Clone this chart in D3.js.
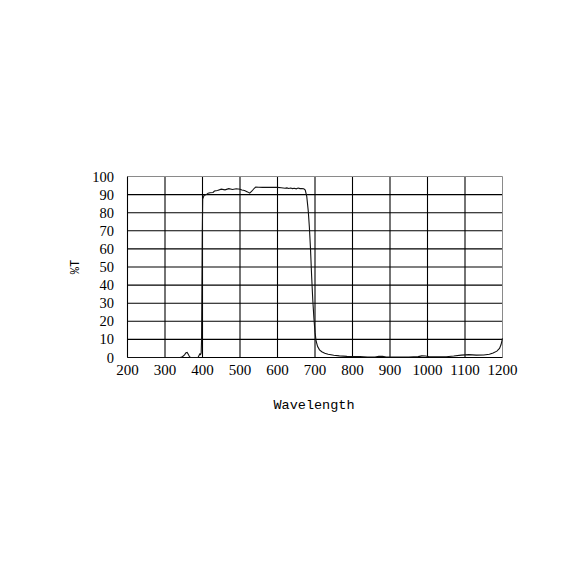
<!DOCTYPE html>
<html><head><meta charset="utf-8">
<script src="https://cdn.jsdelivr.net/npm/d3@7"></script>
<style>html,body{margin:0;padding:0;background:#fff;}</style>
</head><body>
<svg id="c" width="579" height="579"></svg>
<script>
const xTicks = [200,300,400,500,600,700,800,900,1000,1100,1200];
const yTicks = [0,10,20,30,40,50,60,70,80,90,100];
const wavelength = [200,340,345,352,356,359,362,366,370,388,391,393,395,396.5,397.5,398.5,399.5,400.5,404,410,415,420,428,432,440,450,460,470,480,490,500,505,512,520,526,532,538,542,550,560,580,600,610,620,625,630,635,640,645,650,655,660,665,670,674,678,682,685,688,691,694,697,700,703,707,712,718,726,735,750,765,785,800,820,840,860,870,880,890,950,975,985,995,1005,1050,1070,1090,1110,1130,1150,1165,1175,1185,1192,1196,1200];
const transmission = [0,0,0.2,1.5,2.6,2.8,1.8,0.2,0,0,1.2,2,1.6,2.5,10,40,70,87.5,89.5,90,90.8,91,91.2,92,92.3,93,92.6,93.3,92.8,93.2,93,92.5,92.3,91.5,90.8,92,93.5,94.2,94.1,94,94,94,93.8,93.5,93.7,93.4,93.6,93.3,93.5,93.2,93.6,93.3,93.4,93.2,92.5,89,81,72,60,45,32,22,14,9,6,4.2,3.2,2.4,1.8,1.2,0.9,0.6,0.5,0.5,0.3,0.3,0.7,0.6,0.3,0.3,0.5,0.9,0.8,0.4,0.4,0.8,1.3,1.6,1.3,1.4,1.8,2.5,3.5,5,7,10.5];

const svg = d3.select("#c");
const x = d3.scaleLinear().domain([200,1200]).range([127.5,502.5]);
const y = d3.scaleLinear().domain([0,100]).range([357.5,176.5]);

// grid
svg.append("g").selectAll("line").data(xTicks.filter(d=>d>200&&d<1200)).join("line")
  .attr("x1",d=>x(d)).attr("x2",d=>x(d)).attr("y1",y(0)).attr("y2",y(100))
  .attr("stroke","#000").attr("stroke-width",1.1);
svg.append("g").selectAll("line").data(yTicks.filter(d=>d>0&&d<100)).join("line")
  .attr("x1",x(200)).attr("x2",x(1200)).attr("y1",d=>y(d)).attr("y2",d=>y(d))
  .attr("stroke","#000").attr("stroke-width",1.1);
// frame
svg.append("line").attr("x1",x(200)).attr("x2",x(1200)).attr("y1",y(100)).attr("y2",y(100)).attr("stroke","#8a8a8a");
svg.append("line").attr("x1",x(1200)).attr("x2",x(1200)).attr("y1",y(0)).attr("y2",y(100)).attr("stroke","#8a8a8a");
svg.append("line").attr("x1",x(200)).attr("x2",x(1200)).attr("y1",y(0)).attr("y2",y(0)).attr("stroke","#000").attr("stroke-width",1.1);
svg.append("line").attr("x1",x(200)).attr("x2",x(200)).attr("y1",y(0)).attr("y2",y(100)).attr("stroke","#000").attr("stroke-width",1.1);

// curve
const pts = wavelength.map((w,i)=>[w,transmission[i]]);
svg.append("path").datum(pts)
  .attr("d", d3.line().x(d=>x(d[0])).y(d=>y(d[1])))
  .attr("fill","none").attr("stroke","#111").attr("stroke-width",1.1);

// tick labels
svg.append("g").selectAll("text").data(yTicks).join("text")
  .attr("x",114).attr("y",d=>y(d)).attr("dy","0.35em").attr("text-anchor","end")
  .attr("font-family","Liberation Serif, serif").attr("font-size",14.5).attr("fill","#000")
  .text(d=>d);
svg.append("g").selectAll("text").data(xTicks).join("text")
  .attr("x",d=>x(d)).attr("y",374.5).attr("text-anchor","middle")
  .attr("font-family","Liberation Serif, serif").attr("font-size",15).attr("fill","#000")
  .text(d=>d);
svg.append("text").attr("x",314).attr("y",408.5).attr("text-anchor","middle")
  .attr("font-family","Liberation Mono, monospace").attr("font-size",13.5).attr("fill","#000")
  .text("Wavelength");
svg.append("text").attr("transform","translate(79,267) rotate(-90)").attr("text-anchor","middle")
  .attr("font-family","Liberation Mono, monospace").attr("font-size",12).attr("fill","#000")
  .text("%T");
</script>
</body></html>
